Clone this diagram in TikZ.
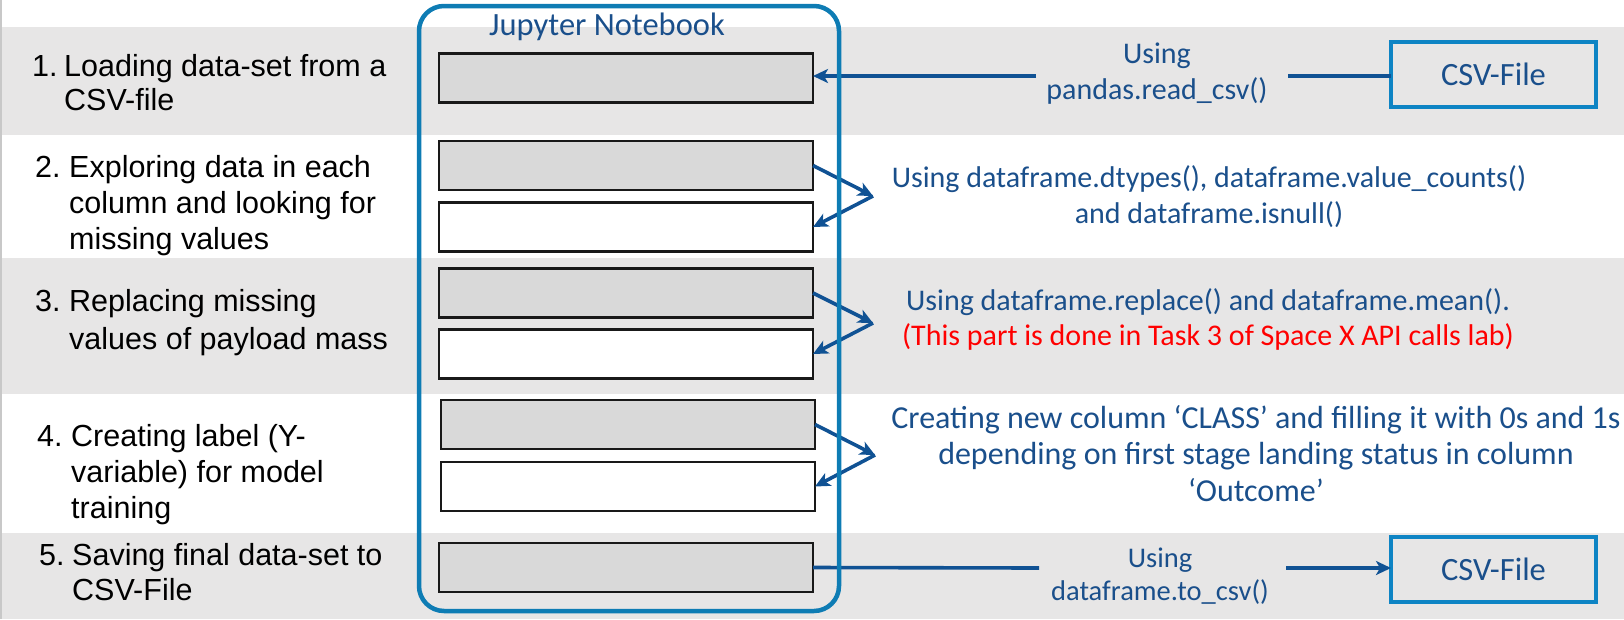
\documentclass[tikz,border=0pt]{standalone}
\usepackage{fontspec}
\setmainfont{Carlito}
\newfontfamily\arialf{Liberation Sans}
\usetikzlibrary{arrows.meta}
\definecolor{bandgrey}{RGB}{231,230,230}
\definecolor{boxgrey}{RGB}{217,217,217}
\definecolor{txtblue}{RGB}{26,79,139}
\definecolor{arrblue}{RGB}{16,82,148}
\definecolor{nbblue}{RGB}{14,124,180}
\definecolor{csvblue}{RGB}{14,132,196}
\definecolor{edgegrey}{RGB}{200,200,200}
\begin{document}
\begin{tikzpicture}[x=1pt,y=-1pt,
  nbox/.style={draw=black!90, line width=2.6pt, minimum width=374pt, minimum height=49pt, inner sep=0pt, outer sep=0pt},
  csvbox/.style={draw=csvblue, line width=4.5pt, minimum width=205pt, minimum height=65pt, inner sep=0pt, outer sep=0pt, text=txtblue, font=\fontsize{32.5}{38}\selectfont},
  arr/.style={draw=arrblue, line width=3.6pt, -{Stealth[length=15pt,width=14pt,inset=4pt]}},
  ln/.style={draw=arrblue, line width=3.6pt},
  lnum/.style={anchor=base west, inner sep=0pt, font=\arialf\fontsize{30.5}{36}\selectfont},
  rt/.style={anchor=base, inner sep=0pt, text=txtblue}
]
\useasboundingbox (0,0) rectangle (1624,619);
% bands
\fill[bandgrey] (0,27) rectangle (1624,135);
\fill[bandgrey] (0,258) rectangle (1624,394);
\fill[bandgrey] (0,533) rectangle (1624,619);
\draw[edgegrey, line width=1.5pt] (0.75,0) -- (0.75,619);

% notebook boxes
\node[nbox, fill=boxgrey] (b1) at (626,78) {};
\node[nbox, fill=boxgrey] (b2) at (626,165.5) {};
\node[nbox, fill=white]   (b3) at (626,227) {};
\node[nbox, fill=boxgrey] (b4) at (626,293) {};
\node[nbox, fill=white]   (b5) at (626,354) {};
\node[nbox, fill=boxgrey] (b6) at (628,424.5) {};
\node[nbox, fill=white]   (b7) at (628,486.5) {};
\node[nbox, fill=boxgrey] (b8) at (626,567.5) {};

% CSV boxes
\node[csvbox] (csv1) at (1493.5,74.5) {CSV-File};
\node[csvbox] (csv2) at (1493.5,569.5) {CSV-File};

% connector points
\coordinate (r1a) at (1036,76);
\coordinate (r1b) at (1288,76);
\coordinate (r5a) at (1039,568);
\coordinate (r5b) at (1286,568);
\coordinate (v2) at (873,196);
\coordinate (v3) at (873,323);
\coordinate (v4) at (875,455);

% connectors
\draw[arr] (r1a) -- (b1.east |- r1a);
\draw[ln] (r1b) -- (csv1.west |- r1b);
\draw[arr] (b2.east) -- (v2);
\draw[arr] (v2) -- (b3.east);
\draw[arr] (b4.east) -- (v3);
\draw[arr] (v3) -- (b5.east);
\draw[arr] (b6.east) -- (v4);
\draw[arr] (v4) -- (b7.east);
\draw[ln] (b8.east) -- (r5a);
\draw[arr] (r5b) -- (csv2.west |- r5b);

% notebook frame
\node[draw=nbblue, line width=4.5pt, rounded corners=25pt, minimum width=420pt, minimum height=605pt, inner sep=0pt, outer sep=0pt] (nb) at (629,308.5) {};
\node[rt, font=\fontsize{32.5}{38}\selectfont] (nbt) at (607,35) {Jupyter Notebook};

% left step texts
\node[lnum] (n1) at (32,76) {1.};
\node[lnum, font=\arialf\fontsize{30.5}{34}\selectfont] (t1) at (64,76) {\parbox[t]{360pt}{\raggedright Loading data-set from a\\CSV-file}};
\node[lnum] (n2) at (35,177) {2.};
\node[lnum] (t2) at (69,177) {\parbox[t]{360pt}{\raggedright Exploring data in each\\column and looking for\\missing values}};
\node[lnum] (n3) at (35,311) {3.};
\node[lnum, font=\arialf\fontsize{30.5}{38}\selectfont] (t3) at (69,311) {\parbox[t]{360pt}{\raggedright Replacing missing\\values of payload mass}};
\node[lnum] (n4) at (37,446) {4.};
\node[lnum] (t4) at (71,446) {\parbox[t]{360pt}{\raggedright Creating label (Y-\\variable) for model\\training}};
\node[lnum] (n5) at (39,565) {5.};
\node[lnum, font=\arialf\fontsize{30.5}{35}\selectfont] (t5) at (72,565) {\parbox[t]{360pt}{\raggedright Saving final data-set to\\CSV-File}};

% right texts
\node[rt, font=\fontsize{30}{36}\selectfont] (u1) at (1157,63) {\parbox[t]{320pt}{\centering Using\\pandas.read\_csv()}};
\node[rt, font=\fontsize{30}{36}\selectfont] (u2) at (1209,187) {\parbox[t]{760pt}{\centering Using dataframe.dtypes(), dataframe.value\_counts()\\and dataframe.isnull()}};
\node[rt, font=\fontsize{30}{35}\selectfont] (u3) at (1208,310) {\parbox[t]{760pt}{\centering Using dataframe.replace() and dataframe.mean().\\\textcolor{red}{(This part is done in Task 3 of Space X API calls lab)}}};
\node[rt, font=\fontsize{32}{36.5}\selectfont] (u4) at (1256,428) {\parbox[t]{760pt}{\centering Creating new column ‘CLASS’ and filling it with 0s and 1s\\depending on first stage landing status in column\\‘Outcome’}};
\node[rt, font=\fontsize{28.5}{33}\selectfont] (u5) at (1160,567) {\parbox[t]{320pt}{\centering Using\\dataframe.to\_csv()}};
\end{tikzpicture}
\end{document}
